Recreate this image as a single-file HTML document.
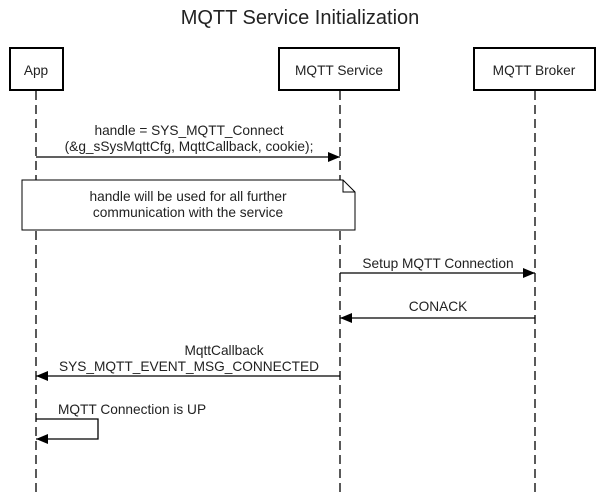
<!DOCTYPE html>
<html><head><style>body{margin:0;background:#fff}</style></head><body>
<svg width="601" height="493" xmlns="http://www.w3.org/2000/svg" font-family="Liberation Sans, Arial, sans-serif" font-size="13.7" fill="#222">
<defs><marker id="a" markerWidth="12" markerHeight="10" refX="12" refY="5" orient="auto" markerUnits="userSpaceOnUse"><path d="M0,0 L12,5 L0,10 z" fill="#000"/></marker></defs>
<text x="300" y="24" font-size="20" text-anchor="middle">MQTT Service Initialization</text>
<g stroke="#000" stroke-width="1.3" stroke-dasharray="9,5">
<line x1="36" y1="91" x2="36" y2="493"/>
<line x1="340" y1="91" x2="340" y2="493"/>
<line x1="535" y1="91" x2="535" y2="493"/>
</g>
<g fill="#fff" stroke="#000" stroke-width="2">
<rect x="10" y="48" width="53" height="42"/>
<rect x="279" y="48" width="120" height="42"/>
<rect x="474" y="48" width="121" height="42"/>
</g>
<text x="36" y="75" text-anchor="middle">App</text>
<text x="339" y="75" text-anchor="middle">MQTT Service</text>
<text x="534" y="75" text-anchor="middle">MQTT Broker</text>
<g stroke="#000" stroke-width="1.3">
<line x1="36" y1="157" x2="340" y2="157" marker-end="url(#a)"/>
<line x1="340" y1="273" x2="535" y2="273" marker-end="url(#a)"/>
<line x1="535" y1="318" x2="340" y2="318" marker-end="url(#a)"/>
<line x1="340" y1="376" x2="36" y2="376" marker-end="url(#a)"/>
<polyline fill="none" points="36,419 98,419 98,439 36,439" marker-end="url(#a)"/>
</g>
<text x="189" y="135" text-anchor="middle">handle = SYS_MQTT_Connect</text>
<text x="189" y="151" text-anchor="middle">(&amp;g_sSysMqttCfg, MqttCallback, cookie);</text>
<path d="M22,180 L343,180 L355,192 L355,230 L22,230 z" fill="#fff" stroke="#000" stroke-width="1"/>
<path d="M343,180 L343,192 L355,192" fill="none" stroke="#000" stroke-width="1"/>
<text x="188" y="201" text-anchor="middle">handle will be used for all further</text>
<text x="188" y="217" text-anchor="middle">communication with the service</text>
<text x="438" y="268" text-anchor="middle">Setup MQTT Connection</text>
<text x="438" y="311" text-anchor="middle">CONACK</text>
<text x="224" y="355" text-anchor="middle">MqttCallback</text>
<text x="189" y="371" text-anchor="middle">SYS_MQTT_EVENT_MSG_CONNECTED</text>
<text x="58" y="414">MQTT Connection is UP</text>
</svg>
</body></html>
